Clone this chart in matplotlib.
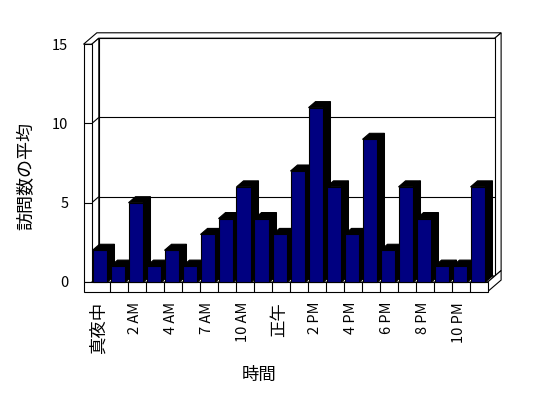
import matplotlib
matplotlib.use('Agg')
import matplotlib.pyplot as plt
from matplotlib.patches import Polygon

plt.rcParams['font.family'] = ['Noto Sans CJK JP', 'DejaVu Sans']

# ---- data ----
categories = ['真夜中', '1 AM', '2 AM', '3 AM', '4 AM', '5 AM', '7 AM', '9 AM',
              '10 AM', '11 AM', '正午', '1 PM', '2 PM', '3 PM', '4 PM', '5 PM',
              '6 PM', '7 PM', '8 PM', '9 PM', '10 PM', '11 PM']
visits = [2, 1, 5, 1, 2, 1, 3, 4, 6, 4, 3, 7, 11, 6, 3, 9, 2, 6, 4, 1, 1, 6]
yticks = [0, 5, 10, 15]
ylabel = '訪問数の平均'
xlabel = '時間'

# ---- 3D frame geometry (data units) ----
N = len(categories)
YMAX = 15
T = 0.46    # side-wall thickness (x units)
F = 0.6     # floor thickness (y units)
DX = 0.39   # depth offset in x for full depth
DY = 0.38   # depth offset in y for full depth
B = 0.9     # back-wall thickness (depth units)
BAR_L, BAR_R = 0.04, 0.87

XSCALE, YSCALE = 18.0, 15.85   # px per unit
W, H = 548, 398
left_px, bottom_px = 83.5, 291.5

xlim = (-T, N + (1 + B) * DX)
ylim = (-F, YMAX + (1 + B) * DY)
aw = (xlim[1] - xlim[0]) * XSCALE
ah = (ylim[1] - ylim[0]) * YSCALE

fig = plt.figure(figsize=(W / 100, H / 100), dpi=100)
ax = fig.add_axes([left_px / W, 1 - bottom_px / H, aw / W, ah / H])
ax.set_xlim(*xlim)
ax.set_ylim(*ylim)
for s in ax.spines.values():
    s.set_visible(False)
ax.patch.set_visible(False)

LW = 0.8
zc = [0]


def P(x, y, z):
    return (x + z * DX, y + z * DY)


def face(pts, fc, ec='black', lw=LW):
    zc[0] += 1
    ax.add_patch(Polygon([P(*p) for p in pts], closed=True, facecolor=fc,
                         edgecolor=ec, lw=lw, zorder=zc[0], clip_on=False,
                         joinstyle='miter'))


def seg(p1, p2, lw=LW):
    zc[0] += 1
    a, b = P(*p1), P(*p2)
    ax.plot([a[0], b[0]], [a[1], b[1]], color='black', lw=lw,
            zorder=zc[0], clip_on=False, solid_capstyle='butt')


# back wall + top (L shaped)
face([(-T, YMAX, 0), (0, YMAX, 0), (0, YMAX, 1), (N, YMAX, 1),
      (N, YMAX, 1 + B), (-T, YMAX, 1 + B)], 'white')
face([(N, 0, 1), (N, YMAX, 1), (N, YMAX, 1 + B), (N, 0, 1 + B)], 'white')
face([(0, 0, 1), (N, 0, 1), (N, YMAX, 1), (0, YMAX, 1)], 'white')
for v in yticks[1:-1]:
    seg((0, v, 1), (N, v, 1))
# side wall
face([(0, 0, 0), (0, 0, 1), (0, YMAX, 1), (0, YMAX, 0)], 'white')
for v in yticks[1:-1]:
    seg((0, v, 0), (0, v, 1))
face([(-T, 0, 0), (0, 0, 0), (0, YMAX, 0), (-T, YMAX, 0)], 'white')
for v in yticks[1:-1]:
    seg((-T, v, 0), (0, v, 0))
# floor
face([(0, 0, 0), (N, 0, 0), (N, 0, 1), (0, 0, 1)], 'white')
face([(N, -F, 0), (N, 0, 0), (N, 0, 1 + B), (N, -F, 1 + B)], 'white')
face([(-T, -F, 0), (N, -F, 0), (N, 0, 0), (-T, 0, 0)], 'white')
for i in range(1, N):
    seg((i, -F, 0), (i, 0, 0))

# bars
for i, v in enumerate(visits):
    x0, x1 = i + BAR_L, i + BAR_R
    face([(x1, 0, 0), (x1, 0, 1), (x1, v, 1), (x1, v, 0)], 'black')
    face([(x0, v, 0), (x1, v, 0), (x1, v, 1), (x0, v, 1)], 'black')
    face([(x0, 0, 0), (x1, 0, 0), (x1, v, 0), (x0, v, 0)], '#000080')

# ticks & labels
ax.set_yticks(yticks)
ax.set_yticklabels([str(t) for t in yticks], fontsize=10.5)
ax.tick_params(axis='y', length=0, pad=11)

shown = list(range(0, N, 2))
ax.set_xticks([i + 0.4 for i in shown])
ax.set_xticklabels([categories[i] for i in shown], rotation=90, va='top', ha='center')
ax.tick_params(axis='x', length=0, pad=7.5)
for t in ax.get_xticklabels():
    txt = t.get_text()
    if any(ord(c) > 0x2000 for c in txt):
        t.set_fontsize(12.5)
    else:
        t.set_fontsize(10.5)

fig.text(26 / W, 1 - 176 / H, ylabel, rotation=90, ha='center', va='center', fontsize=13)
fig.text(259 / W, 1 - 375 / H, xlabel, ha='center', va='center', fontsize=12.5)

fig.savefig('out.png', dpi=100)
